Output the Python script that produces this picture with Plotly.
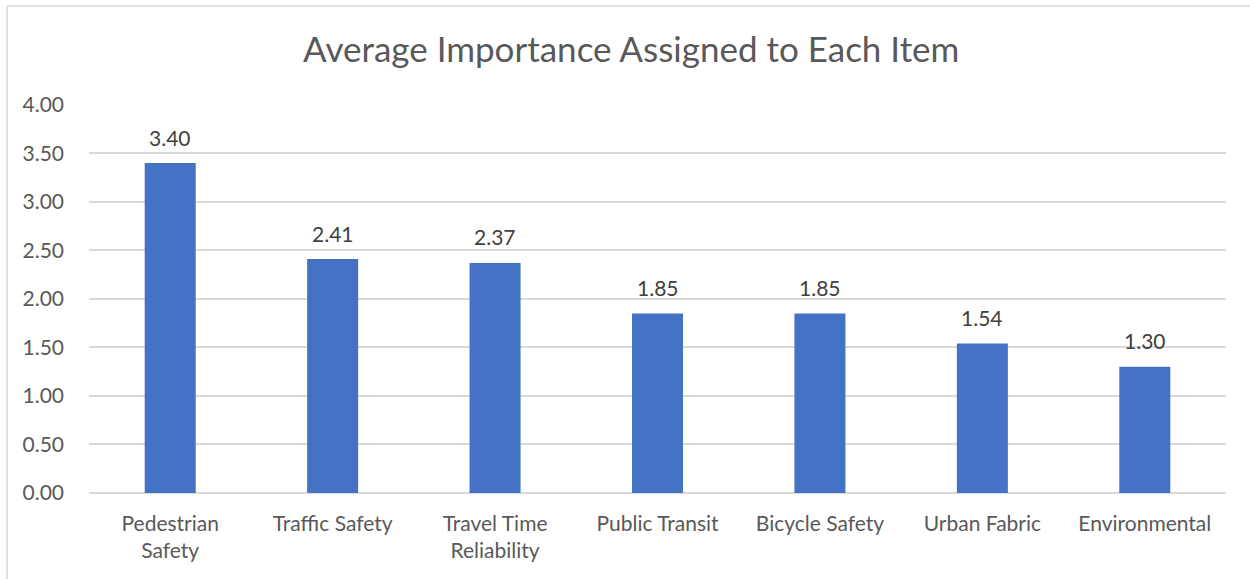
import plotly.graph_objects as go

categories = ["Pedestrian<br>Safety", "Traffic Safety", "Travel Time<br>Reliability",
              "Public Transit", "Bicycle Safety", "Urban Fabric", "Environmental"]
values = [3.40, 2.41, 2.37, 1.85, 1.85, 1.54, 1.30]
tick_vals = [0, 0.5, 1.0, 1.5, 2.0, 2.5, 3.0, 3.5, 4.0]

W, H = 1250, 579
L, R, T, B = 89, 24, 104, 86
pw, ph = W - L - R, H - T - B
FONT = "Lato"
GREY = "#595959"

fig = go.Figure(go.Bar(
    x=categories, y=values,
    marker=dict(color="#4472C4", line=dict(width=0)),
    width=0.314,
    hoverinfo="x+y",
))

# value labels floating above each bar
for c, v in zip(categories, values):
    fig.add_annotation(x=c, y=v, text=f"{v:.2f}", showarrow=False,
                       yanchor="middle", yshift=26,
                       font=dict(family=FONT, size=21, color="#404040"))

fig.update_layout(
    width=W, height=H,
    margin=dict(l=L, r=R, t=T, b=B),
    paper_bgcolor="white", plot_bgcolor="white",
    showlegend=False,
    title=dict(text="Average Importance Assigned to Each Item",
               x=0.505, xanchor="center", y=1 - 50 / H, yanchor="middle",
               font=dict(family=FONT, size=35, color=GREY)),
    xaxis=dict(showgrid=False, showline=False, ticks="", ticklabelstandoff=16,
               tickfont=dict(family=FONT, size=21, color=GREY)),
    yaxis=dict(range=[0, 4.008], tickvals=tick_vals, tickformat=".2f",
               showgrid=True, gridcolor="#D9D9D9", gridwidth=1.5,
               zeroline=True, zerolinecolor="#D9D9D9", zerolinewidth=1.5,
               showline=False, ticks="", ticklabelstandoff=24,
               tickfont=dict(family=FONT, size=21, color=GREY)),
    shapes=[
        dict(type="line", xref="paper", yref="paper",
             x0=(7 - L) / pw, x1=(W + 5 - L) / pw,
             y0=1 + (T - 6) / ph, y1=1 + (T - 6) / ph,
             line=dict(color="#D9D9D9", width=1.5)),
        dict(type="line", xref="paper", yref="paper",
             x0=(7 - L) / pw, x1=(7 - L) / pw,
             y0=1 + (T - 6) / ph, y1=-(B + 5) / ph,
             line=dict(color="#D9D9D9", width=1.5)),
    ],
)

fig.write_html("out.html")
